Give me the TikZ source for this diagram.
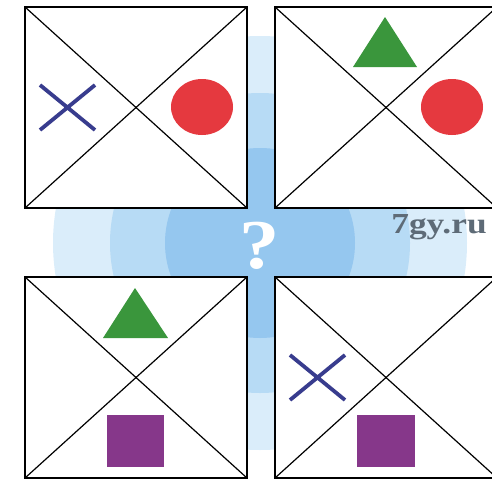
\documentclass[tikz,border=0pt]{standalone}
\usepackage{fontspec}
\setmainfont{Liberation Serif}
\usepackage{tikz}

\definecolor{crossblue}{HTML}{383C8E}
\definecolor{dotred}{HTML}{E5393F}
\definecolor{trigreen}{HTML}{3A963C}
\definecolor{boxpurple}{HTML}{86378A}
\definecolor{glowA}{HTML}{DAEDFA}
\definecolor{glowB}{HTML}{B7DBF5}
\definecolor{glowC}{HTML}{95C7EF}
\definecolor{markgray}{HTML}{5E6B77}

\begin{document}
\begin{tikzpicture}[x=1pt, y=-1pt,
  frame/.style={draw=black, line width=2.8pt, fill=white},
  diag/.style={black, line width=1.2pt},
  cross/.style={crossblue, line width=3.8pt},
  dot/.style={fill=dotred},
]
\useasboundingbox (0,0) rectangle (492,479);
\clip (0,0) rectangle (492,479);
% blue glow behind the gaps
\fill[glowA] (260,243) circle (207pt);
\fill[glowB] (260,243) circle (150pt);
\fill[glowC] (260,243) circle (95pt);
% four frames with diagonals
\foreach \x/\y in {25/7, 275/7, 25/277, 275/277} {
  \draw[frame] (\x,\y) rectangle ++(222,201);
  \draw[diag] (\x,\y) -- ++(222,201) (\x+222,\y) -- ++(-222,201);
}
% top left
\draw[cross] (40,85) -- (95,130) (40,130) -- (95,85);
\fill[dot] (202,107) ellipse [x radius=31pt, y radius=28pt];
% top right
\fill[trigreen] (385,17) -- (417,67) -- (353,67) -- cycle;
\fill[dot] (452,107) ellipse [x radius=31pt, y radius=28pt];
% bottom left
\fill[trigreen] (135,288) -- (168,338) -- (103,338) -- cycle;
\fill[boxpurple] (107,415) rectangle (164,467);
% bottom right
\draw[cross] (290,355) -- (345,400) (290,400) -- (345,355);
\fill[boxpurple] (357,415) rectangle (415,467);
% question mark and site mark
\node[text=white, font=\bfseries\fontsize{70}{70}\selectfont, xscale=1.15] (quest) at (260,246) {?};
\node[text=markgray, font=\bfseries\fontsize{29}{29}\selectfont, xscale=1.22] (site) at (439,227) {7gy.ru};
\end{tikzpicture}
\end{document}
